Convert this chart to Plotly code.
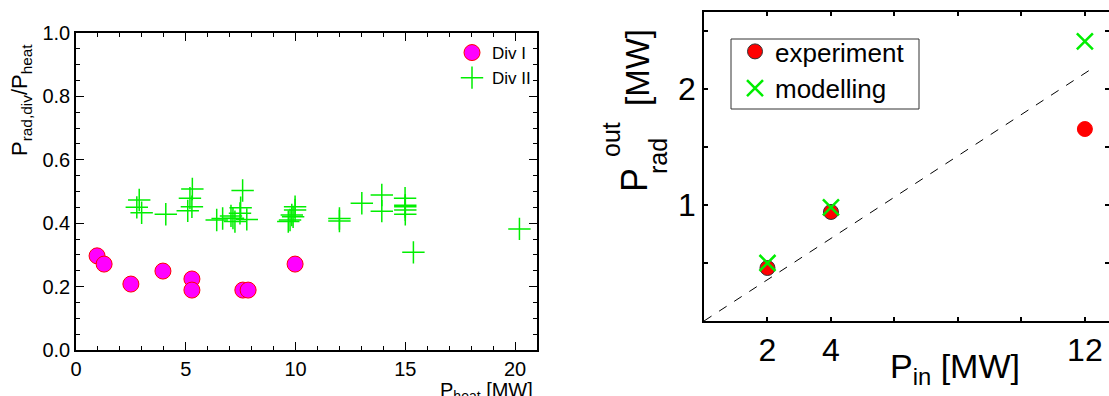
import plotly.graph_objects as go

# ---------------- data ----------------
# left panel: divertor radiated fraction vs heating power
div1_x = [0.96, 1.28, 2.5, 3.96, 5.28, 5.28, 7.6, 7.84, 9.98]
div1_y = [0.297, 0.271, 0.208, 0.249, 0.224, 0.189, 0.189, 0.189, 0.271]

div2_x = [2.88, 2.77, 2.99, 4.09, 5.30, 5.19, 5.09, 5.28, 6.41, 6.68, 7.06, 7.15,
          7.24, 7.47, 7.59, 7.50, 7.78, 9.67, 9.75, 9.83, 9.89, 9.98, 9.98, 12.0,
          12.0, 13.02, 13.93, 13.93, 14.99, 15.0, 15.0, 15.0, 15.0, 15.37, 20.2]
div2_y = [0.473, 0.450, 0.433, 0.428, 0.508, 0.479, 0.439, 0.452, 0.410, 0.415,
          0.423, 0.416, 0.405, 0.431, 0.503, 0.449, 0.412, 0.405, 0.410, 0.426,
          0.420, 0.442, 0.452, 0.415, 0.407, 0.463, 0.489, 0.438, 0.479, 0.457,
          0.452, 0.442, 0.428, 0.308, 0.382]

# right panel: radiated power vs input power
p_in = [2, 4, 12]
p_exp = [0.457, 0.94, 1.655]
p_mod = [0.50, 0.98, 2.41]
ref_x = [0, 12.3]
ref_slope = 0.178
ref_y = [v * ref_slope for v in ref_x]

left_xticks = [0, 5, 10, 15, 20]
left_yticks = [0.0, 0.2, 0.4, 0.6, 0.8, 1.0]
right_xticks = [2, 4, 6, 8, 10, 12]
right_xlabels = ["2", "4", "", "", "", "12"]
right_yticks = [0.5, 1, 1.5, 2, 2.5]
right_ylabels = ["", "1", "", "2", ""]

W, H = 1109, 396
FONT = "Liberation Sans, Arial, sans-serif"


def px(x):
    return x / W


def py(y):
    return 1 - y / H


fig = go.Figure()

fig.add_trace(go.Scatter(
    x=div1_x, y=div1_y, mode="markers", name="Div I",
    marker=dict(symbol="circle", size=16, color="#ff00ff",
                line=dict(color="#ff0000", width=1)),
    xaxis="x", yaxis="y", legend="legend"))
fig.add_trace(go.Scatter(
    x=div2_x, y=div2_y, mode="markers", name="Div II",
    marker=dict(symbol="cross-thin", size=16,
                line=dict(color="#00ee00", width=1.5)),
    xaxis="x", yaxis="y", legend="legend"))

fig.add_trace(go.Scatter(
    x=ref_x, y=ref_y, mode="lines", showlegend=False,
    line=dict(color="black", width=1, dash="dash"),
    xaxis="x2", yaxis="y2"))
fig.add_trace(go.Scatter(
    x=p_in, y=p_exp, mode="markers", name="experiment",
    marker=dict(symbol="circle", size=15, color="#ff0000",
                line=dict(color=["#333333", "#333333", "#ff0000"], width=1)),
    xaxis="x2", yaxis="y2", legend="legend2"))
fig.add_trace(go.Scatter(
    x=p_in, y=p_mod, mode="markers", name="modelling",
    marker=dict(symbol="x-thin", size=16,
                line=dict(color="#00ee00", width=2.5)),
    xaxis="x2", yaxis="y2", legend="legend2"))

axis_common = dict(showline=True, linecolor="black", linewidth=1.5, mirror="allticks",
                   ticks="inside", tickcolor="black", showgrid=False, zeroline=False,
                   automargin=False)

fig.update_layout(
    width=W, height=H,
    margin=dict(l=0, r=0, t=0, b=0),
    paper_bgcolor="white", plot_bgcolor="white",
    font=dict(family=FONT, color="black"),
    xaxis=dict(domain=[px(76), px(537)], range=[0, 21], tickvals=left_xticks,
               ticklen=8, tickwidth=1, tickfont=dict(size=20),
               minor=dict(dtick=1, ticklen=4, ticks="inside", tickcolor="black"),
               anchor="y", **axis_common),
    yaxis=dict(domain=[py(350), py(33)], range=[0, 1.0], tickvals=left_yticks,
               tickformat=".1f", ticklen=8, tickwidth=1, tickfont=dict(size=20),
               minor=dict(dtick=0.05, ticklen=4, ticks="inside", tickcolor="black"),
               anchor="x", **axis_common),
    xaxis2=dict(domain=[px(704), 1.0], range=[0, 12.76], tickvals=right_xticks,
                ticktext=right_xlabels, ticklen=4, tickwidth=1.5,
                tickfont=dict(size=32), anchor="y2", **axis_common),
    yaxis2=dict(domain=[py(321), py(12)], range=[0, 2.664], tickvals=right_yticks,
                ticktext=right_ylabels, ticklen=4, tickwidth=1.5,
                tickfont=dict(size=32), anchor="x2", **axis_common),
    legend=dict(x=px(452), y=py(35), xanchor="left", yanchor="top",
                font=dict(size=17, family=FONT), bgcolor="rgba(0,0,0,0)",
                itemwidth=30, borderwidth=0, tracegroupgap=0),
    legend2=dict(x=px(735), y=py(28), xanchor="left", yanchor="top",
                 font=dict(size=26, family=FONT), bgcolor="rgba(0,0,0,0)",
                 borderwidth=0, itemwidth=30),
    shapes=[dict(type="rect", xref="paper", yref="paper",
                 x0=px(731), x1=px(919), y0=py(109), y1=py(39),
                 line=dict(color="#333333", width=1), fillcolor="rgba(0,0,0,0)",
                 layer="below")],
)

ann = []
# left x title
ann.append(dict(x=px(535), y=py(377), xref="paper", yref="paper", xanchor="right",
                yanchor="top", showarrow=False, text="P<sub>heat</sub> [MW]",
                font=dict(size=20, family=FONT)))
# left y title
ann.append(dict(x=px(21), y=py(100), xref="paper", yref="paper", xanchor="center",
                yanchor="middle", showarrow=False, textangle=-90,
                text="P<sub>rad,div</sub>/P<sub>heat</sub>",
                font=dict(size=22, family=FONT)))
# right x title
ann.append(dict(x=px(955), y=py(368), xref="paper", yref="paper", xanchor="center",
                yanchor="middle", showarrow=False, text="P<sub>in</sub> [MW]",
                font=dict(size=34, family=FONT)))
# right y title pieces
ann.append(dict(x=px(634), y=py(180), xref="paper", yref="paper", xanchor="center",
                yanchor="middle", showarrow=False, textangle=-90, text="P",
                font=dict(size=36, family=FONT)))
ann.append(dict(x=px(611), y=py(140), xref="paper", yref="paper", xanchor="center",
                yanchor="middle", showarrow=False, textangle=-90, text="out",
                font=dict(size=25, family=FONT)))
ann.append(dict(x=px(658), y=py(156), xref="paper", yref="paper", xanchor="center",
                yanchor="middle", showarrow=False, textangle=-90, text="rad",
                font=dict(size=25, family=FONT)))
ann.append(dict(x=px(637), y=py(68), xref="paper", yref="paper", xanchor="center",
                yanchor="middle", showarrow=False, textangle=-90, text="[MW]",
                font=dict(size=33, family=FONT)))
fig.update_layout(annotations=ann)

fig.write_html("out.html", config={"displayModeBar": False},
               post_script="document.body.style.margin='0';document.body.style.overflow='hidden';")
